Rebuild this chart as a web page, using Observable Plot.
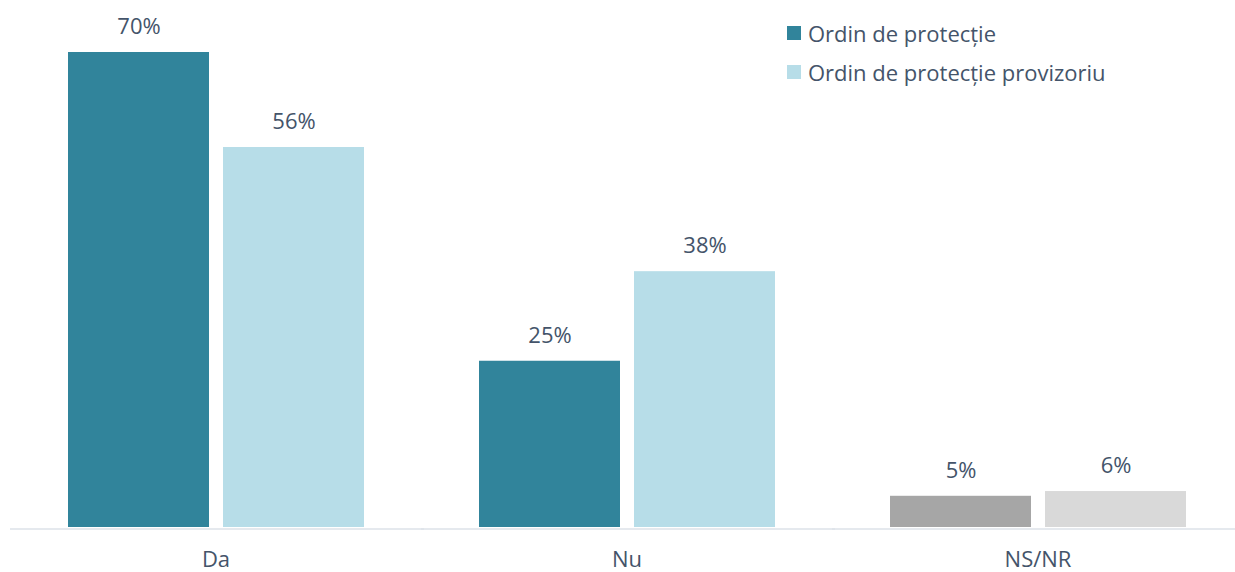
<!DOCTYPE html>
<html>
<head>
<meta charset="utf-8">
<script src="https://cdn.jsdelivr.net/npm/d3@7"></script>
<script src="https://cdn.jsdelivr.net/npm/@observablehq/plot@0.6"></script>
<style>
  html, body { margin: 0; padding: 0; background: #fff; }
  #wrap { position: relative; width: 1235px; height: 572px; font-family: "Open Sans", sans-serif; }
  #legend { position: absolute; left: 787px; top: 19px; color: #44546A; font-size: 22px; }
  .item { display: flex; align-items: center; height: 28px; margin-bottom: 11px; white-space: nowrap; }
  .sw { width: 14px; height: 14px; margin-right: 7px; }
</style>
</head>
<body>
<div id="wrap">
  <div id="chart"></div>
  <div id="legend"></div>
</div>
<script>
const categories = ["Da", "Nu", "NS/NR"];
const series = ["Ordin de protecție", "Ordin de protecție provizoriu"];
const valuesOrdin = [70, 24.5, 4.6];
const valuesProvizoriu = [56, 37.7, 5.3];
const labelsOrdin = ["70%", "25%", "5%"];
const labelsProvizoriu = ["56%", "38%", "6%"];

const paletteOrdin = ["#31849B", "#31849B", "#A6A6A6"];
const paletteProvizoriu = ["#B7DDE8", "#B7DDE8", "#D9D9D9"];
const textColor = "#44546A";

const data = categories.flatMap((c, i) => [
  {cat: c, series: series[0], value: valuesOrdin[i], label: labelsOrdin[i], color: paletteOrdin[i]},
  {cat: c, series: series[1], value: valuesProvizoriu[i], label: labelsProvizoriu[i], color: paletteProvizoriu[i]}
]);

const chart = Plot.plot({
  width: 1235,
  height: 572,
  marginLeft: 10,
  marginRight: 0,
  marginTop: 52,
  marginBottom: 45,
  style: {fontFamily: "'Open Sans', sans-serif", fontSize: "22px", color: textColor, background: "#fff"},
  fx: {domain: categories, paddingInner: 0.2775, paddingOuter: 0.1272, align: 0.537, axis: null},
  x: {domain: series, paddingInner: 0.092, paddingOuter: 0, axis: null},
  y: {domain: [0, 70], axis: null},
  color: {type: "identity"},
  marks: [
    Plot.ruleY([0], {stroke: "#DDE2E9", strokeWidth: 1.5, dy: 1.5, insetLeft: -57, insetRight: -60}),
    Plot.barY(data, {fx: "cat", x: "series", y: "value", fill: "color"}),
    Plot.text(data, {fx: "cat", x: "series", y: "value", text: "label", lineAnchor: "bottom", dy: -18.5, fill: textColor, fontSize: 22}),
    Plot.text(categories, {fx: d => d, text: d => d, frameAnchor: "bottom", lineAnchor: "bottom", dy: 39, fill: textColor, fontSize: 22})
  ]
});
document.getElementById("chart").appendChild(chart);

const legend = document.getElementById("legend");
series.forEach((s, i) => {
  const item = document.createElement("div");
  item.className = "item";
  const sw = document.createElement("div");
  sw.className = "sw";
  sw.style.background = i === 0 ? paletteOrdin[0] : paletteProvizoriu[0];
  const t = document.createElement("span");
  t.textContent = s;
  item.appendChild(sw);
  item.appendChild(t);
  legend.appendChild(item);
});
</script>
</body>
</html>
